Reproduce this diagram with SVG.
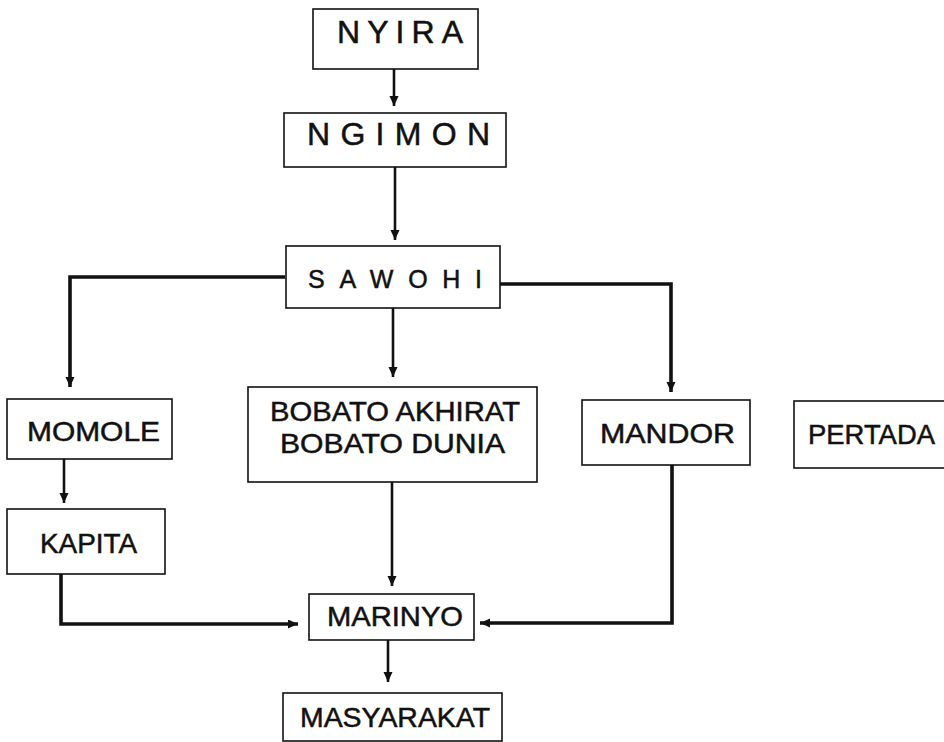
<svg xmlns="http://www.w3.org/2000/svg" width="944" height="742" viewBox="0 0 944 742">
  <style>
    .box { fill: #fff; stroke: #111; stroke-width: 1.6; }
    .lbl { font-family: "Liberation Sans", "DejaVu Sans", sans-serif; fill: #111; stroke: #111; stroke-width: 0.5; text-anchor: start; }
    .wide { font-size: 32px; }
    .sw { font-size: 25px; }
    .mid { font-size: 28px; }
    .link { fill: none; stroke: #111; stroke-width: 2.6; stroke-linejoin: miter; }
    .thick { stroke-width: 3.6; }
  </style>
  <defs>
    <marker id="arrow" markerUnits="userSpaceOnUse" markerWidth="12" markerHeight="12" refX="10" refY="4.5" orient="auto">
      <path d="M0,0 L10,4.5 L0,9 Z" fill="#111"/>
    </marker>
  </defs>
  <rect width="944" height="742" fill="#fff"/>

  <g id="connectors">
    <path class="link" d="M394,69 V106" marker-end="url(#arrow)"/>
    <path class="link" d="M395,167 V240" marker-end="url(#arrow)"/>
    <path class="link thick" d="M285,277 H70 V387" marker-end="url(#arrow)"/>
    <path class="link" d="M393,308 V377" marker-end="url(#arrow)"/>
    <path class="link thick" d="M500,284 H671 V392" marker-end="url(#arrow)"/>
    <path class="link" d="M64,459 V503" marker-end="url(#arrow)"/>
    <path class="link thick" d="M61,574 V624 H298" marker-end="url(#arrow)"/>
    <path class="link" d="M392,482 V586" marker-end="url(#arrow)"/>
    <path class="link thick" d="M672,465 V623 H480" marker-end="url(#arrow)"/>
    <path class="link" d="M388,640 V682" marker-end="url(#arrow)"/>
  </g>

  <g id="nyira">
    <rect class="box" x="313" y="9" width="165" height="60"/>
    <text class="lbl wide" x="337" y="43" textLength="126" lengthAdjust="spacing">NYIRA</text>
  </g>
  <g id="ngimon">
    <rect class="box" x="284" y="113" width="222" height="54"/>
    <text class="lbl wide" x="307" y="145" textLength="183" lengthAdjust="spacing">NGIMON</text>
  </g>
  <g id="sawohi">
    <rect class="box" x="286" y="246" width="214" height="62"/>
    <text class="lbl sw" x="308" y="288" textLength="174" lengthAdjust="spacing">SAWOHI</text>
  </g>
  <g id="momole">
    <rect class="box" x="7" y="399" width="165" height="60"/>
    <text class="lbl mid" x="27" y="441" textLength="133" lengthAdjust="spacingAndGlyphs">MOMOLE</text>
  </g>
  <g id="bobato">
    <rect class="box" x="248" y="387" width="289" height="95"/>
    <text class="lbl mid" x="270" y="421" textLength="250" lengthAdjust="spacingAndGlyphs">BOBATO AKHIRAT</text>
    <text class="lbl mid" x="280" y="453" textLength="225" lengthAdjust="spacingAndGlyphs">BOBATO DUNIA</text>
  </g>
  <g id="mandor">
    <rect class="box" x="582" y="400" width="168" height="65"/>
    <text class="lbl mid" x="600" y="443" textLength="135" lengthAdjust="spacingAndGlyphs">MANDOR</text>
  </g>
  <g id="pertada">
    <rect class="box" x="794" y="401" width="152" height="67"/>
    <text class="lbl mid" x="808" y="444" textLength="127" lengthAdjust="spacingAndGlyphs">PERTADA</text>
  </g>
  <g id="kapita">
    <rect class="box" x="7" y="509" width="158" height="65"/>
    <text class="lbl mid" x="40" y="553" textLength="97" lengthAdjust="spacingAndGlyphs">KAPITA</text>
  </g>
  <g id="marinyo">
    <rect class="box" x="309" y="594" width="165" height="46"/>
    <text class="lbl mid" x="327" y="626" textLength="136" lengthAdjust="spacingAndGlyphs">MARINYO</text>
  </g>
  <g id="masyarakat">
    <rect class="box" x="283" y="693" width="219" height="48"/>
    <text class="lbl mid" x="300" y="727" textLength="190" lengthAdjust="spacingAndGlyphs">MASYARAKAT</text>
  </g>
</svg>
